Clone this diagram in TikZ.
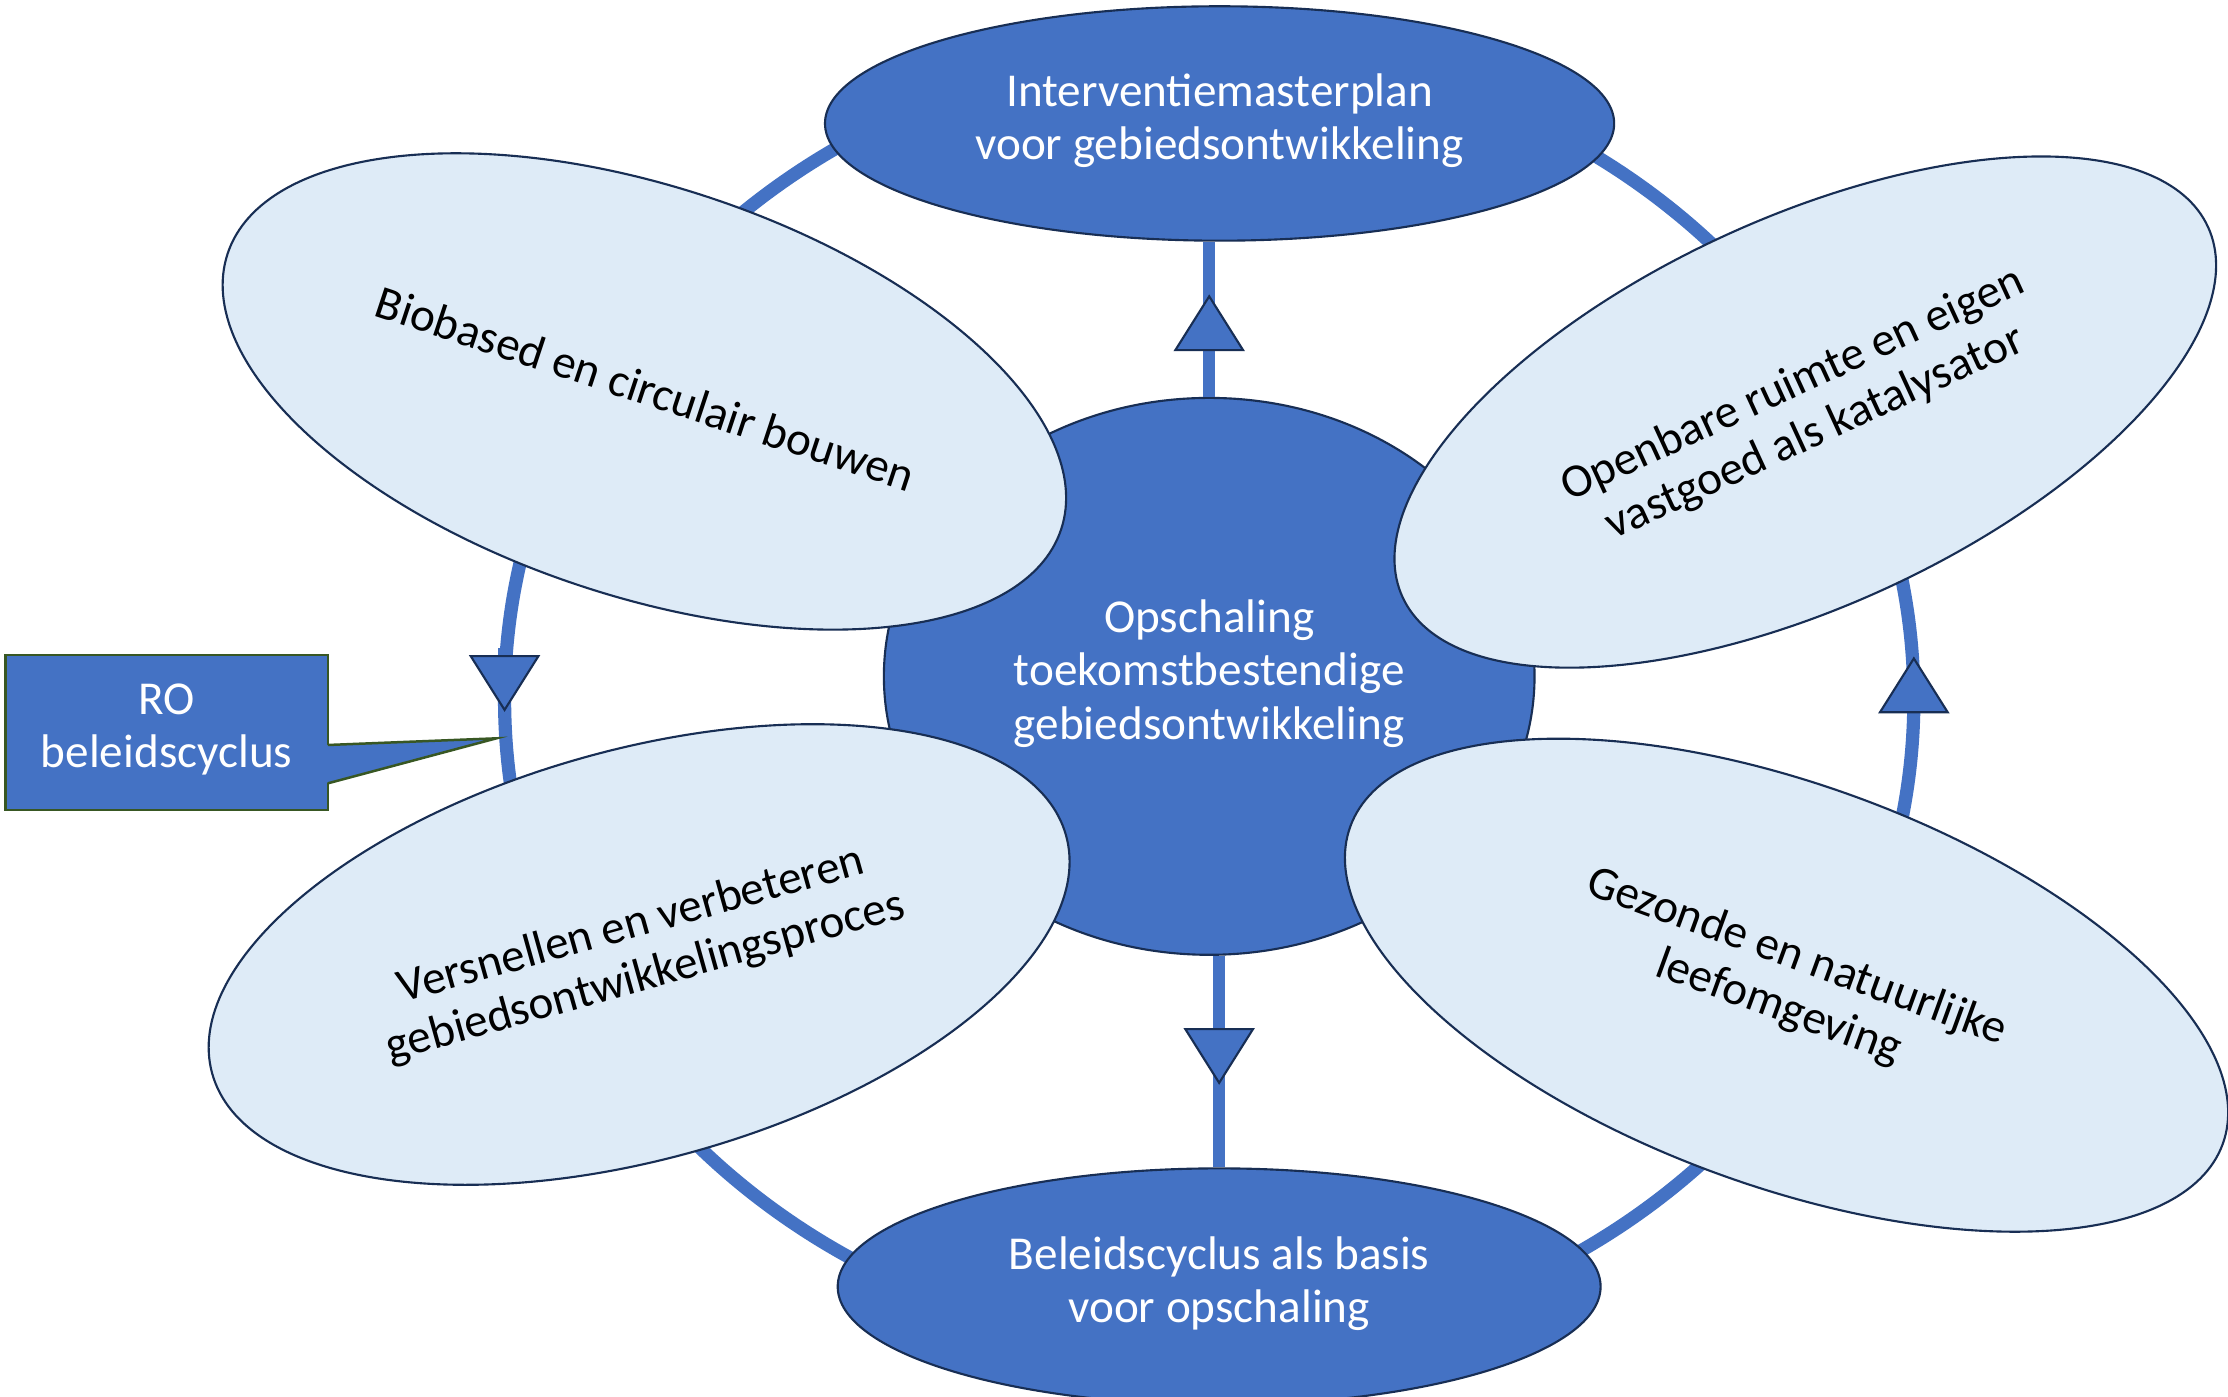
\documentclass[tikz,border=0pt]{standalone}
\usepackage{fontspec}
\setmainfont{Carlito}
\usetikzlibrary{shapes.geometric,arrows.meta,decorations.markings,calc}
\definecolor{accblue}{RGB}{68,114,196}
\definecolor{paleblue}{RGB}{222,235,247}
\definecolor{edgenavy}{RGB}{24,46,84}
\definecolor{calloutgreen}{RGB}{56,87,35}
\newcommand{\linestrut}{\rule[-5.5pt]{0pt}{21.3pt}}
\tikzset{
  boxtext/.style={align=center,inner sep=0pt,font=\fontsize{18.9}{21.3}\selectfont,execute at begin node=\linestrut,execute at end node=\linestrut},
  hubnode/.style={ellipse,draw=edgenavy,line width=0.85pt,fill=accblue,text=white,boxtext},
  themenode/.style={ellipse,draw=edgenavy,line width=0.85pt,fill=paleblue,text=black,boxtext},
  ringline/.style={ellipse,draw=accblue,line width=5.3pt,inner sep=0pt,outer sep=0pt},
  linkline/.style={draw=accblue,line width=4.8pt},
  cyclehead/.tip={Triangle[length=0.8cm,width=1cm,line width=0.85pt,fill=accblue,color=edgenavy]},
  ringhead/.style={draw=accblue,line width=5.3pt,-cyclehead},
  midhead/.style={postaction={decorate},decoration={markings,mark=at position #1 with {\arrow{cyclehead}}}},
  callbox/.style={rectangle,draw=calloutgreen,line width=1pt,fill=accblue,text=white,boxtext,outer sep=0pt,minimum width=4.54cm,minimum height=2.18cm},
  callline/.style={draw=calloutgreen,line width=1pt}
}

\begin{document}
\begin{tikzpicture}[x=0.02cm,y=-0.02cm]
  \useasboundingbox[fill=white] (0,0) rectangle (1568,983);
  % cycle behind everything
  \node[ringline,minimum width=19.84cm,minimum height=18.28cm] (loopring) at (851,492) {};
  \draw[ringhead] ([yshift=0.72cm]loopring.west) -- ([yshift=-0.18cm]loopring.west);
  \draw[ringhead] ([yshift=-0.3cm]loopring.east) -- ([yshift=0.6cm]loopring.east);

  \node[hubnode,minimum width=9.16cm,minimum height=7.84cm] (core) at (851,476) {Opschaling\\toekomstbestendige\\gebiedsontwikkeling};
  \node[hubnode,minimum width=11.11cm,minimum height=3.30cm] (plan) at (858.3,86.9) {Interventiemasterplan\\voor gebiedsontwikkeling};
  \node[hubnode,minimum width=10.74cm,minimum height=3.33cm] (base) at (858,905.5) {Beleidscyclus als basis\\voor opschaling};

  \draw[linkline,midhead=0.661] (core.north) -- (core.north |- plan.south);
  \draw[linkline,midhead=0.61] (core.south -| base.north) -- (base.north);

  % four themes around the core
  \node[themenode,minimum width=12.36cm,minimum height=5.76cm,rotate=-18.3] (bio) at (453.5,275.5) {Biobased en circulair bouwen};
  \node[themenode,minimum width=12.48cm,minimum height=5.46cm,rotate=24.7] (pub) at (1270.5,290) {Openbare ruimte en eigen\\vastgoed als katalysator};
  \node[themenode,minimum width=12.48cm,minimum height=5.76cm,rotate=15.6] (proc) at (449.8,671.75) {Versnellen en verbeteren\\gebiedsontwikkelingsproces};
  \node[themenode,minimum width=13.07cm,minimum height=5.65cm,rotate=-20] (env) at (1257.3,693.35) {Gezonde en natuurlijke\\leefomgeving};

  % callout
  \node[callbox] (ro) at (117.25,515.5) {RO\\beleidscyclus};
  \coordinate (roTip) at (349.4,519.6);
  \fill[accblue] ([xshift=-1.2pt,yshift=-0.176cm]ro.east) -- (roTip) -- ([xshift=-1.2pt,yshift=-0.716cm]ro.east) -- cycle;
  \draw[callline] ([yshift=-0.176cm]ro.east) -- (roTip) -- ([yshift=-0.716cm]ro.east);
\end{tikzpicture}
\end{document}
